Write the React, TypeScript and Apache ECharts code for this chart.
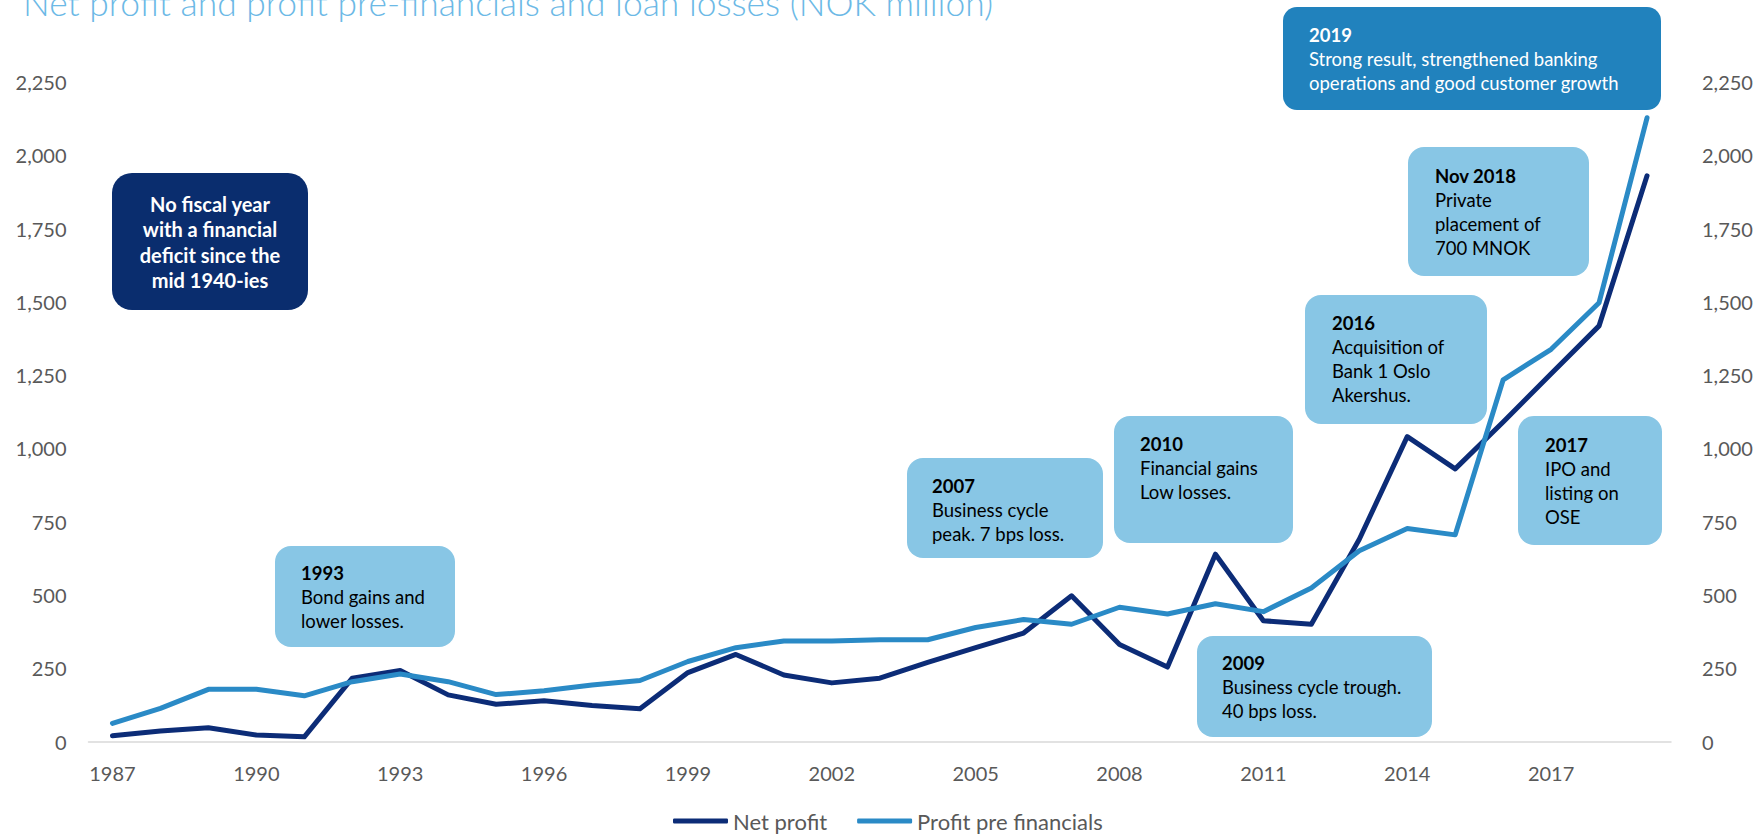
import React, { useEffect, useRef } from "react";
import * as echarts from "echarts";

const years: string[] = [
  "1987", "1988", "1989", "1990", "1991", "1992", "1993", "1994", "1995", "1996", "1997",
  "1998", "1999", "2000", "2001", "2002", "2003", "2004", "2005", "2006", "2007", "2008",
  "2009", "2010", "2011", "2012", "2013", "2014", "2015", "2016", "2017", "2018", "2019",
];

const netProfit: number[] = [
  20, 36, 47, 22, 16, 216, 242, 159, 127, 139, 123, 112, 235, 297, 227, 200, 216, 270, 320,
  370, 497, 331, 254, 639, 412, 400, 690, 1040, 930, 1090, 1255, 1418, 1930,
];

const profitPreFinancials: number[] = [
  62, 113, 178, 178, 156, 204, 230, 204, 160, 173, 193, 208, 273, 320, 343, 343, 347, 347, 389,
  416, 400, 458, 435, 470, 443, 524, 651, 727, 705, 1234, 1338, 1497, 2128,
];

const seriesNames: string[] = ["Net profit", "Profit pre financials"];
const yMin = 0;
const yMax = 2250;
const yStep = 250;

const titleText = "Net profit and profit pre-financials and loan losses (NOK million)";

// Annotation texts (content only)
const noteHeads: string[] = ["2019", "Nov 2018", "2016", "2017", "2010", "2007", "2009", "1993"];
const noteBodies: string[][] = [
  ["Strong result, strengthened banking", "operations and good customer growth"],
  ["Private", "placement of", "700 MNOK"],
  ["Acquisition of", "Bank 1 Oslo", "Akershus."],
  ["IPO and", "listing on", "OSE"],
  ["Financial gains", "Low losses."],
  ["Business cycle", "peak. 7 bps loss."],
  ["Business cycle trough.", "40 bps loss."],
  ["Bond gains and", "lower losses."],
];
const deficitLines: string[] = ["No fiscal year", "with a financial", "deficit since the", "mid 1940-ies"];

// Layout for annotation boxes: [x, y, w, h, textX, firstLineY, radius]
const noteLayout: number[][] = [
  [1283, 7, 378, 103, 1309, 35, 14],
  [1408, 147, 181, 129, 1435, 176, 16],
  [1305, 295, 182, 129, 1332, 323, 16],
  [1518, 416, 144, 129, 1545, 445, 16],
  [1114, 416, 179, 127, 1140, 444, 16],
  [907, 458, 196, 100, 932, 486, 16],
  [1197, 636, 235, 101, 1222, 663, 16],
  [275, 546, 180, 101, 301, 573, 16],
];

const FONT = 'Lato, "Open Sans", sans-serif';

export default function App() {
  const ref = useRef<HTMLDivElement>(null);

  useEffect(() => {
    if (!ref.current) return;
    const chart = echarts.init(ref.current, undefined, { renderer: "svg" });

    const graphics: any[] = [];
    graphics.push({
      type: "text",
      x: 23,
      y: 2,
      z: 100,
      style: {
        text: titleText,
        fill: "#6cb9e6",
        font: `300 35.4px ${FONT}`,
        verticalAlign: "middle",
        align: "left",
      },
    });

    // Navy box
    graphics.push({
      type: "rect",
      z: 100,
      shape: { x: 112, y: 173, width: 196, height: 137, r: 20 },
      style: { fill: "#0a2d6e" },
    });
    deficitLines.forEach((t, i) => {
      graphics.push({
        type: "text",
        z: 101,
        x: 210,
        y: 203.5 + i * 25.6,
        style: {
          text: t,
          fill: "#ffffff",
          font: `bold 20px ${FONT}`,
          align: "center",
          verticalAlign: "middle",
        },
      });
    });

    noteHeads.forEach((head, k) => {
      const [bx, by, bw, bh, tx, ty, r] = noteLayout[k];
      const isMain = k === 0;
      graphics.push({
        type: "rect",
        z: 100,
        shape: { x: bx, y: by, width: bw, height: bh, r },
        style: { fill: isMain ? "#2182bd" : "#88c6e5" },
      });
      const color = isMain ? "#ffffff" : "#000000";
      graphics.push({
        type: "text",
        z: 101,
        x: tx,
        y: ty,
        style: {
          text: head,
          fill: color,
          font: `bold 18.5px ${FONT}`,
          align: "left",
          verticalAlign: "middle",
        },
      });
      noteBodies[k].forEach((line, i) => {
        graphics.push({
          type: "text",
          z: 101,
          x: tx,
          y: ty + (i + 1) * 24,
          style: {
            text: line,
            fill: color,
            font: `18.5px ${FONT}`,
            align: "left",
            verticalAlign: "middle",
          },
        });
      });
    });

    const yAxisCommon = {
      type: "value",
      min: yMin,
      max: yMax,
      interval: yStep,
      splitLine: { show: false },
      axisTick: { show: false },
      axisLine: { show: false },
    };

    chart.setOption({
      animation: false,
      grid: { left: 88.5, right: 90, top: 82, bottom: 94.5, containLabel: false },
      legend: {
        data: seriesNames,
        left: 668,
        top: 805,
        itemWidth: 55,
        itemHeight: 5,
        itemGap: 30,
        icon: "roundRect",
        textStyle: { fontFamily: FONT, fontSize: 22, color: "#595959" },
      },
      xAxis: {
        type: "category",
        data: years,
        boundaryGap: true,
        axisTick: { show: false },
        axisLine: { lineStyle: { color: "#d9d9d9", width: 1.5 } },
        axisLabel: {
          interval: 2,
          fontFamily: FONT,
          fontSize: 20,
          color: "#595959",
          margin: 21,
        },
      },
      yAxis: [
        {
          ...yAxisCommon,
          position: "left",
          axisLabel: { fontFamily: FONT, fontSize: 20, color: "#595959", margin: 22 },
        },
        {
          ...yAxisCommon,
          position: "right",
          axisLabel: { fontFamily: FONT, fontSize: 20, color: "#595959", margin: 31 },
        },
      ],
      series: [
        {
          name: seriesNames[0],
          type: "line",
          data: netProfit,
          symbol: "none",
          color: "#0c2c77",
          lineStyle: { width: 5, color: "#0c2c77", cap: "round", join: "round" },
        },
        {
          name: seriesNames[1],
          type: "line",
          data: profitPreFinancials,
          symbol: "none",
          color: "#2a8ac6",
          lineStyle: { width: 5, color: "#2a8ac6", cap: "round", join: "round" },
        },
      ],
      graphic: graphics,
    });

    return () => {
      chart.dispose();
    };
  }, []);

  return (
    <div
      ref={ref}
      style={{ position: "fixed", left: 0, top: 0, width: 1761, height: 836, background: "#ffffff" }}
    />
  );
}
